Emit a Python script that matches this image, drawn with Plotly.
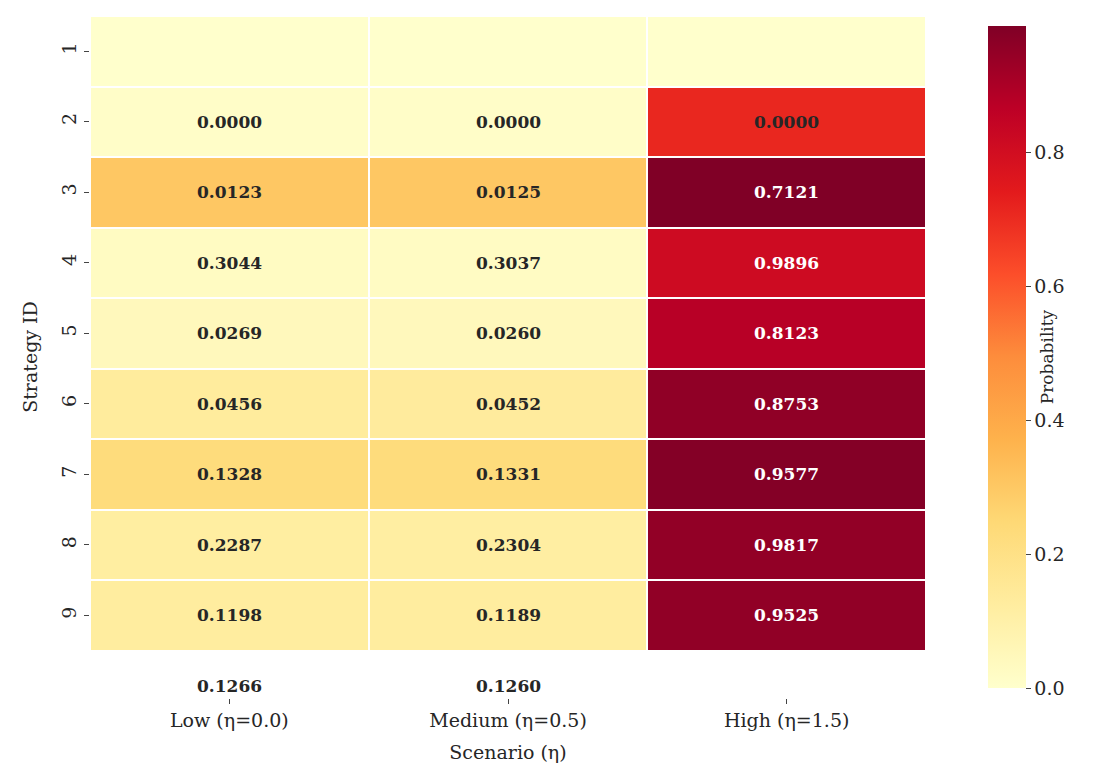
import plotly.graph_objects as go

scenarios = ["Low (η=0.0)", "Medium (η=0.5)", "High (η=1.5)"]
strategies = ["1", "2", "3", "4", "5", "6", "7", "8", "9"]
low = [0.0000, 0.0123, 0.3044, 0.0269, 0.0456, 0.1328, 0.2287, 0.1198, 0.1266]
medium = [0.0000, 0.0125, 0.3037, 0.0260, 0.0452, 0.1331, 0.2304, 0.1189, 0.1260]
high = [0.0000, 0.7121, 0.9896, 0.8123, 0.8753, 0.9577, 0.9817, 0.9525, 0.9546]

z = [[low[i], medium[i], high[i]] for i in range(len(strategies))]
zmax = max(max(r) for r in z)

fig = go.Figure(go.Heatmap(
    z=z, x=scenarios, y=strategies, colorscale="YlOrRd", zmin=0, zmax=zmax,
    xgap=2, ygap=2, hoverongaps=False,
    colorbar=dict(title=dict(text="Probability", side="right", font=dict(size=17)),
                  thickness=38, len=1, lenmode="fraction", y=0.5, yanchor="middle",
                  x=1.062, xanchor="left", outlinewidth=0, ticks="outside",
                  tickvals=[0, 0.2, 0.4, 0.6, 0.8], ticktext=["0.0", "0.2", "0.4", "0.6", "0.8"],
                  tickfont=dict(size=19)),
))

annotations = []
for i, s in enumerate(strategies):
    for j, sc in enumerate(scenarios):
        v = z[i][j]
        annotations.append(dict(x=sc, y=s, text=f"<b>{v:.4f}</b>", showarrow=False,
                                font=dict(size=17, color="white" if v > 0.6 * zmax else "#262626")))

fig.update_layout(
    width=1097, height=783,
    margin=dict(l=82, r=179, t=8, b=93),
    paper_bgcolor="white", plot_bgcolor="white",
    font=dict(family="DejaVu Serif", color="#262626", size=17),
    annotations=annotations,
    xaxis=dict(title=dict(text="Scenario (η)", font=dict(size=19)), tickfont=dict(size=19),
               ticks="outside", showgrid=False, zeroline=False),
    yaxis=dict(title=dict(text="Strategy ID", font=dict(size=19)), tickfont=dict(size=19),
               autorange="reversed", tickangle=-90, ticks="outside",
               showgrid=False, zeroline=False),
)

fig.write_html("out.html")
